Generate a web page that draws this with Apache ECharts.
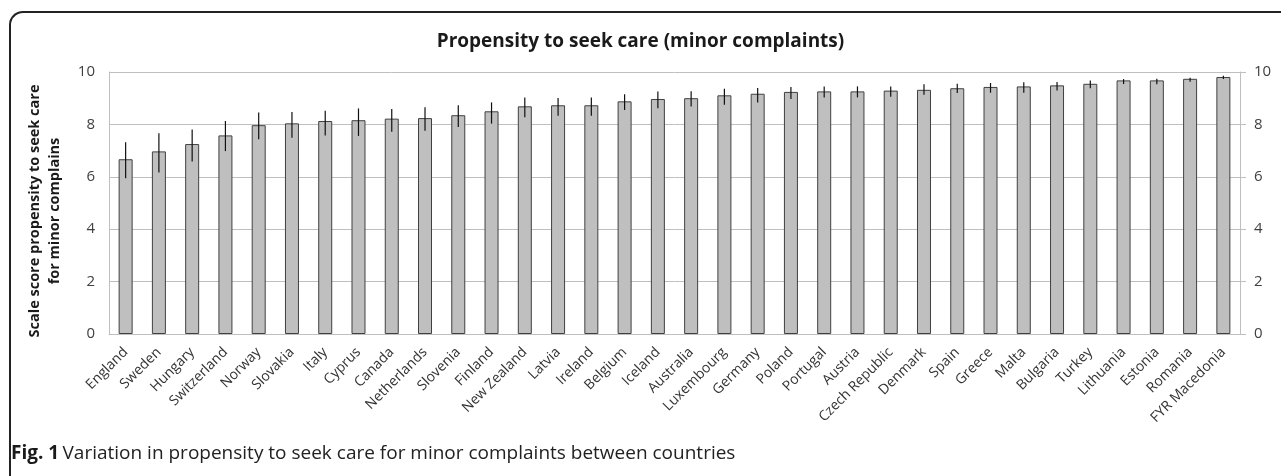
<!DOCTYPE html>
<html>
<head>
<meta charset="utf-8">
<script src="https://cdn.jsdelivr.net/npm/echarts@6/dist/echarts.min.js"></script>
<style>
  html, body { margin: 0; padding: 0; background: #fff; }
  #frame { position: absolute; left: 9px; top: 11px; width: 1272px; height: 465px;
           border-top: 2px solid #222; border-left: 2px solid #222; border-top-left-radius: 14px; box-sizing: border-box; }
  #chart { position: absolute; left: 0; top: 0; width: 1281px; height: 476px; }
</style>
</head>
<body>
<div id="frame"></div>
<div id="chart"></div>
<script>
const categories = ["England", "Sweden", "Hungary", "Switzerland", "Norway", "Slovakia", "Italy", "Cyprus", "Canada", "Netherlands", "Slovenia", "Finland", "New Zealand", "Latvia", "Ireland", "Belgium", "Iceland", "Australia", "Luxembourg", "Germany", "Poland", "Portugal", "Austria", "Czech Republic", "Denmark", "Spain", "Greece", "Malta", "Bulgaria", "Turkey", "Lithuania", "Estonia", "Romania", "FYR Macedonia"];
const scores = [6.67, 6.97, 7.25, 7.58, 7.97, 8.04, 8.13, 8.16, 8.22, 8.24, 8.35, 8.50, 8.69, 8.73, 8.73, 8.88, 8.97, 9.00, 9.11, 9.17, 9.24, 9.26, 9.26, 9.29, 9.32, 9.38, 9.43, 9.45, 9.49, 9.55, 9.68, 9.68, 9.74, 9.81];
const errorHigh = [7.32, 7.66, 7.81, 8.13, 8.45, 8.47, 8.52, 8.61, 8.59, 8.65, 8.73, 8.84, 9.03, 9.01, 9.03, 9.15, 9.26, 9.27, 9.36, 9.39, 9.43, 9.45, 9.45, 9.45, 9.53, 9.55, 9.58, 9.61, 9.62, 9.68, 9.73, 9.74, 9.78, 9.86];
const errorLow = [5.94, 6.16, 6.58, 6.98, 7.43, 7.49, 7.58, 7.56, 7.72, 7.76, 7.90, 8.03, 8.27, 8.33, 8.33, 8.55, 8.62, 8.68, 8.75, 8.84, 8.97, 9.03, 9.03, 9.06, 9.13, 9.20, 9.21, 9.21, 9.29, 9.38, 9.54, 9.53, 9.63, 9.73];
const yTicks = [0, 2, 4, 6, 8, 10];

const chart = echarts.init(document.getElementById('chart'), null, { renderer: 'canvas' });
const font = '"Open Sans", "Noto Sans", sans-serif';
const errData = categories.map((c, i) => [i, errorLow[i], errorHigh[i]]);

const yAxisCommon = {
  type: 'value', min: yTicks[0], max: yTicks[yTicks.length - 1], interval: 2,
  axisLine: { show: true, lineStyle: { color: '#bfbfbf', width: 1 } },
  axisLabel: { color: '#404040', fontSize: 15, fontFamily: font, margin: 14 },
  splitLine: { show: true, lineStyle: { color: '#bfbfbf', width: 1 } }
};

chart.setOption({
  animation: false,
  backgroundColor: 'transparent',
  title: {
    text: 'Propensity to seek care (minor complaints)',
    left: 'center', top: 27,
    textStyle: { fontFamily: font, fontSize: 19, fontWeight: 'bold', color: '#1a1a1a' }
  },
  grid: { left: 109, right: 41, top: 72, bottom: 142 },
  xAxis: {
    type: 'category', data: categories,
    axisLine: { show: true, lineStyle: { color: '#bfbfbf' } },
    axisTick: { show: false },
    axisLabel: { interval: 0, rotate: 45, color: '#333', fontSize: 14, fontFamily: font, margin: 16 }
  },
  yAxis: [
    Object.assign({}, yAxisCommon, {
      position: 'left', axisTick: { show: false },
      name: 'Scale score propensity to seek care\nfor minor complains',
      nameLocation: 'middle', nameGap: 44, nameRotate: 90,
      nameTextStyle: { fontFamily: font, fontSize: 14.5, fontWeight: 'bold', color: '#1a1a1a', lineHeight: 20, padding: [0, 16, 0, 0] }
    }),
    Object.assign({}, yAxisCommon, {
      position: 'right',
      axisTick: { show: true, inside: false, length: 6, lineStyle: { color: '#bfbfbf' } },
      splitLine: { show: false }
    })
  ],
  series: [
    {
      type: 'bar', data: scores, barWidth: 14,
      itemStyle: { color: '#bfbfbf', borderColor: '#404040', borderWidth: 1 }
    },
    {
      type: 'custom', data: errData, z: 5,
      encode: { x: 0, y: [1, 2] },
      renderItem: function (params, api) {
        const i = api.value(0);
        const lo = api.coord([i, api.value(1)]);
        const hi = api.coord([i, api.value(2)]);
        return {
          type: 'line',
          shape: { x1: lo[0], y1: lo[1], x2: hi[0], y2: hi[1] },
          style: { stroke: '#111', lineWidth: 1.2 }
        };
      }
    }
  ],
  graphic: [
    {
      type: 'text', left: 11, top: 444,
      style: {
        text: '{b|Fig. 1} {n|Variation in propensity to seek care for minor complaints between countries}',
        rich: {
          b: { fontFamily: font, fontSize: 19, fontWeight: 'bold', fill: '#1a1a1a' },
          n: { fontFamily: font, fontSize: 19, fill: '#222' }
        }
      }
    }
  ]
});
</script>
</body>
</html>
